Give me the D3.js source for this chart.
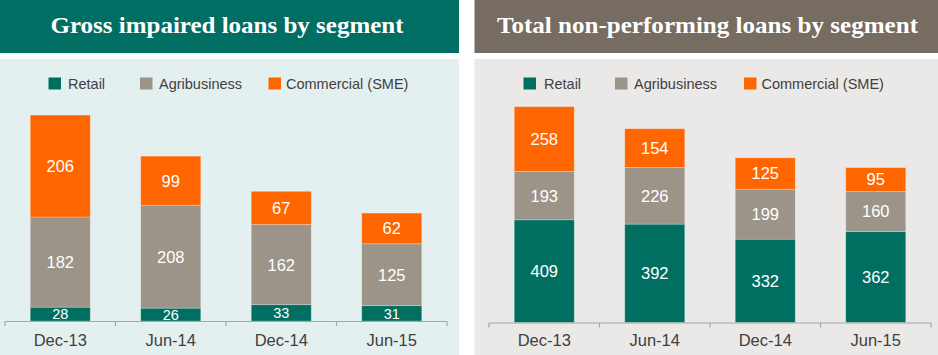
<!DOCTYPE html>
<html>
<head>
<meta charset="utf-8">
<script src="https://cdn.jsdelivr.net/npm/d3@7"></script>
<style>
  html, body { margin: 0; padding: 0; background: #ffffff; }
  svg { display: block; }
</style>
</head>
<body>
<svg id="chart" width="938" height="355"></svg>
<script>
// ---------- data ----------
const categories = ["Dec-13", "Jun-14", "Dec-14", "Jun-15"];
const seriesNames = ["Retail", "Agribusiness", "Commercial (SME)"];

const grossRetail = [28, 26, 33, 31];
const grossAgri = [182, 208, 162, 125];
const grossCommercial = [206, 99, 67, 62];

const npRetail = [409, 392, 332, 362];
const npAgri = [193, 226, 199, 160];
const npCommercial = [258, 154, 125, 95];

const titleLeft = "Gross impaired loans by segment";
const titleRight = "Total non-performing loans by segment";

// ---------- styles ----------
const colors = ["#006f62", "#9c9389", "#ff6600"];
const svg = d3.select("#chart");

function panel(opts) {
  const g = svg.append("g");
  // header
  g.append("rect").attr("x", opts.x0).attr("y", 0)
    .attr("width", opts.x1 - opts.x0).attr("height", 53)
    .attr("fill", opts.headerColor);
  g.append("text")
    .attr("x", opts.titleX).attr("y", 33)
    .attr("text-anchor", "middle")
    .attr("font-family", "'Liberation Serif', 'DejaVu Serif', serif")
    .attr("font-weight", "bold")
    .attr("font-size", 23)
    .attr("fill", "#ffffff")
    .attr("textLength", opts.titleLen)
    .attr("lengthAdjust", "spacingAndGlyphs")
    .text(opts.title);
  // background
  g.append("rect").attr("x", opts.x0).attr("y", 59)
    .attr("width", opts.x1 - opts.x0).attr("height", 355 - 59)
    .attr("fill", opts.bg);

  // legend
  opts.legendX.forEach((lx, i) => {
    g.append("rect").attr("x", lx[0]).attr("y", 77.5)
      .attr("width", 12.5).attr("height", 12)
      .attr("fill", colors[i]);
    g.append("text").attr("x", lx[1]).attr("y", 89)
      .attr("font-family", "'Liberation Sans', Arial, sans-serif")
      .attr("font-size", 14.5)
      .attr("fill", "#404040")
      .text(seriesNames[i]);
  });

  // scales
  const x = d3.scaleBand().domain(categories)
    .range([opts.ax0, opts.ax1])
    .paddingInner(0.457).paddingOuter(0.457 / 2);
  const y = d3.scaleLinear().domain(opts.yDomain).range([opts.base, opts.yTop]);

  const rows = categories.map((c, i) => ({
    cat: c, Retail: opts.data[0][i], Agribusiness: opts.data[1][i], "Commercial (SME)": opts.data[2][i]
  }));
  const stacked = d3.stack().keys(seriesNames)(rows);

  stacked.forEach((layer, si) => {
    const lg = g.append("g");
    lg.selectAll("rect").data(layer).enter().append("rect")
      .attr("x", d => x(d.data.cat))
      .attr("width", x.bandwidth())
      .attr("y", d => y(d[1]))
      .attr("height", d => y(d[0]) - y(d[1]))
      .attr("fill", colors[si])
      .attr("stroke", "rgba(255,255,255,0.3)")
      .attr("stroke-width", 0.8);
    lg.selectAll("text").data(layer).enter().append("text")
      .attr("x", d => x(d.data.cat) + x.bandwidth() / 2)
      .attr("y", d => (y(d[0]) + y(d[1])) / 2)
      .attr("dy", "0.36em")
      .attr("text-anchor", "middle")
      .attr("font-family", "'Liberation Sans', Arial, sans-serif")
      .attr("font-size", d => (y(d[0]) - y(d[1])) < 20 ? 14.5 : 16.5)
      .attr("fill", "#ffffff")
      .text(d => d[1] - d[0]);
  });

  // axis
  const step = x.step();
  const bounds = categories.map(c => x(c) - step * x.paddingInner() / 2);
  bounds.push(opts.ax1);
  g.append("line").attr("x1", opts.ax0).attr("x2", opts.ax1)
    .attr("y1", opts.base + 0.5).attr("y2", opts.base + 0.5)
    .attr("stroke", "#a6a6a6").attr("stroke-width", 1.2);
  g.selectAll(null).data(bounds).enter().append("line")
    .attr("x1", d => d).attr("x2", d => d)
    .attr("y1", opts.base + 0.5).attr("y2", opts.base + 5)
    .attr("stroke", "#a6a6a6").attr("stroke-width", 1.2);
  g.selectAll(null).data(categories).enter().append("text")
    .attr("x", d => x(d) + x.bandwidth() / 2)
    .attr("y", 345.5)
    .attr("text-anchor", "middle")
    .attr("font-family", "'Liberation Sans', Arial, sans-serif")
    .attr("font-size", 16.5)
    .attr("fill", "#404040")
    .text(d => d);
}

panel({
  x0: 0, x1: 459, headerColor: "#006e63", bg: "#e4f0f0",
  title: titleLeft, titleX: 227, titleLen: 353,
  legendX: [[48.5, 68], [140, 159], [268.5, 286]],
  ax0: 5, ax1: 447, base: 321, yDomain: [0, 420], yTop: 321 - 420 * 0.495,
  data: [grossRetail, grossAgri, grossCommercial]
});

panel({
  x0: 474.5, x1: 938, headerColor: "#776c61", bg: "#ebe9e7",
  title: titleRight, titleX: 707.5, titleLen: 421,
  legendX: [[523.5, 544], [615, 634], [744, 761.5]],
  ax0: 489, ax1: 931, base: 322.5, yDomain: [0, 860], yTop: 322.5 - 860 * 0.251,
  data: [npRetail, npAgri, npCommercial]
});
</script>
</body>
</html>
